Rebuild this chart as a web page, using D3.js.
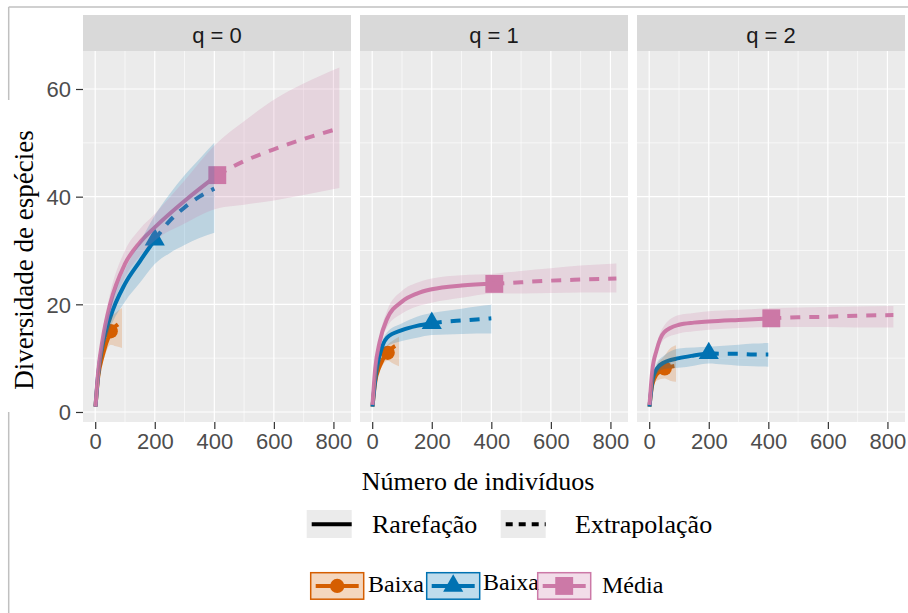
<!DOCTYPE html>
<html>
<head>
<meta charset="utf-8">
<script src="https://cdn.jsdelivr.net/npm/d3@7"></script>
<style>
  body { margin: 0; background: #fff; }
  svg  { display: block; }
  .sans  { font-family: "Liberation Sans", Arial, sans-serif; }
  .serif { font-family: "Liberation Serif", "Times New Roman", serif; }
</style>
</head>
<body>
<div id="chart"></div>
<script>
// ── data ────────────────────────────────────────────────────
const qLabels    = ["q = 0", "q = 1", "q = 2"];
const groupNames = ["Baixa", "Baixa", "Média"];
const refSizes   = [52, 200, 410];           // observed sample size (marker)
const xTicks     = [0, 200, 400, 600, 800];
const xMinor     = [100, 300, 500, 700];
const yTicks     = [0, 20, 40, 60];
const yMinor     = [10, 30, 50];

const sizesOrange = [1, 10, 25, 52, 70, 90];
const sizesBlue   = [1, 10, 25, 50, 100, 150, 200, 250, 300, 350, 400];
const sizesPink   = [1, 10, 25, 50, 100, 150, 200, 300, 410, 500, 600, 700, 820];

// q = 0
const orangeQ0   = [1, 6.5, 10.5, 15, 16, 16.8];
const orangeQ0Lo = [1, 5.5, 9, 12.5, 12.2, 11.9];
const orangeQ0Hi = [1, 7.5, 12, 17.5, 18.5, 19.3];
const blueQ0     = [1, 7, 12.5, 17.5, 23.8, 28, 32, 35.5, 38, 40, 41.5];
const blueQ0Lo   = [1, 6, 11, 15.5, 20.5, 24, 27.5, 29.5, 31, 32.3, 33.3];
const blueQ0Hi   = [1, 8, 14, 19.5, 26.5, 31.5, 36.5, 40.5, 44, 47, 50];
const pinkQ0     = [1, 7.5, 13.5, 20, 27.5, 31.5, 34.3, 39.2, 44, 46.6, 48.8, 50.7, 52.7];
const pinkQ0Lo   = [1, 6.5, 12, 18, 25, 29, 31.8, 35, 37.8, 38.5, 39.3, 40.3, 41.6];
const pinkQ0Hi   = [1, 8.5, 15, 22, 30, 34, 36.8, 43, 50, 54, 58, 61, 64];

// q = 1
const orangeQ1   = [1, 5.5, 8.5, 11, 12, 12.6];
const orangeQ1Lo = [1, 4.8, 7.5, 9.5, 9, 8.5];
const orangeQ1Hi = [1, 6.2, 9.5, 12.5, 13.3, 14];
const blueQ1     = [1, 6, 10.5, 13.8, 15.2, 16, 16.5, 16.8, 17, 17.2, 17.4];
const blueQ1Lo   = [1, 5.5, 9.5, 12.2, 13.2, 13.8, 14.3, 14.4, 14.5, 14.6, 14.6];
const blueQ1Hi   = [1, 6.5, 11.5, 14.8, 16.5, 17.7, 18.4, 18.8, 19.2, 19.6, 19.9];
const pinkQ1     = [1.3, 8, 13, 17.3, 20.5, 22, 22.8, 23.5, 23.8, 24.1, 24.4, 24.6, 24.8];
const pinkQ1Lo   = [1.3, 7.5, 12, 15.8, 18.3, 19.6, 20.3, 21.2, 22, 22, 22.1, 22.2, 22.2];
const pinkQ1Hi   = [1.3, 8.5, 14, 18.8, 22.5, 24, 24.8, 25.4, 25.7, 26.2, 26.7, 27.2, 27.6];

// q = 2
const orangeQ2   = [1, 5, 7, 8.1, 8.4, 8.6];
const orangeQ2Lo = [1, 4.2, 5.8, 6.2, 5.8, 5.6];
const orangeQ2Hi = [1, 5.8, 8.5, 10.5, 11.8, 12.4];
const blueQ2     = [1, 5.5, 8, 9.2, 10, 10.5, 10.9, 10.8, 10.8, 10.7, 10.7];
const blueQ2Lo   = [1, 5, 7, 8, 8.2, 8.6, 9, 8.8, 8.6, 8.5, 8.4];
const blueQ2Hi   = [1, 6, 9, 10.5, 11.8, 12, 12.1, 12.3, 12.5, 12.7, 12.8];
const pinkQ2     = [1.3, 7.5, 11.5, 14.8, 16.2, 16.6, 16.8, 17.1, 17.4, 17.6, 17.7, 17.9, 18];
const pinkQ2Lo   = [1.3, 7, 10.5, 13.5, 14.6, 15, 15.3, 15.6, 15.8, 15.8, 15.8, 15.7, 15.7];
const pinkQ2Hi   = [1.3, 8, 12.5, 16, 18, 18.4, 18.7, 19, 19.3, 19.4, 19.5, 19.6, 19.7];

// ── styling / layout ────────────────────────────────────────
const colors = ["#D55E00", "#0072B2", "#CC79A7"];
const shapes = [d3.symbolCircle, d3.symbolTriangle, d3.symbolSquare];
const shapeArea = [160, 175, 320];

const W = 908, H = 613;
const panelX = [83, 360, 637], panelW = 268;
const stripTop = 15, panelTop = 51, panelBottom = 422;

const sizes = [sizesOrange, sizesBlue, sizesPink];
const curves = [
  [[orangeQ0, orangeQ0Lo, orangeQ0Hi], [blueQ0, blueQ0Lo, blueQ0Hi], [pinkQ0, pinkQ0Lo, pinkQ0Hi]],
  [[orangeQ1, orangeQ1Lo, orangeQ1Hi], [blueQ1, blueQ1Lo, blueQ1Hi], [pinkQ1, pinkQ1Lo, pinkQ1Hi]],
  [[orangeQ2, orangeQ2Lo, orangeQ2Hi], [blueQ2, blueQ2Lo, blueQ2Hi], [pinkQ2, pinkQ2Lo, pinkQ2Hi]]
];

function rows(qi, gi) {
  const [est, lo, hi] = curves[qi][gi];
  return sizes[gi].map((m, i) => ({ m, est: est[i], lo: lo[i], hi: hi[i] }));
}

const svg = d3.select("#chart").append("svg")
  .attr("width", W).attr("height", H);

// outer frame remnants
svg.append("line").attr("x1", 8.7).attr("x2", W).attr("y1", 7).attr("y2", 7)
  .attr("stroke", "#c0c0c0").attr("stroke-width", 1.5);
svg.append("line").attr("x1", 8.7).attr("x2", 8.7).attr("y1", 7).attr("y2", 100)
  .attr("stroke", "#c0c0c0").attr("stroke-width", 1.5);
svg.append("line").attr("x1", 8.7).attr("x2", 8.7).attr("y1", 412).attr("y2", H)
  .attr("stroke", "#c0c0c0").attr("stroke-width", 1.5);

const y = d3.scaleLinear().domain([-1.86, 67.06]).range([panelBottom, panelTop]);

qLabels.forEach((label, qi) => {
  const px = panelX[qi];
  const x = d3.scaleLinear().domain([-41, 859]).range([px, px + panelW]);
  const g = svg.append("g");

  // strip
  g.append("rect").attr("x", px).attr("y", stripTop)
    .attr("width", panelW).attr("height", panelTop - stripTop).attr("fill", "#d9d9d9");
  g.append("text").attr("class", "sans")
    .attr("x", px + panelW / 2).attr("y", 43.3)
    .attr("text-anchor", "middle").attr("font-size", 22).attr("fill", "#1a1a1a")
    .text(label);

  // panel background + grid
  g.append("rect").attr("x", px).attr("y", panelTop)
    .attr("width", panelW).attr("height", panelBottom - panelTop).attr("fill", "#ebebeb");
  g.selectAll(".ymin").data(yMinor).join("line")
    .attr("x1", px).attr("x2", px + panelW).attr("y1", d => y(d)).attr("y2", d => y(d))
    .attr("stroke", "#fff").attr("stroke-width", 0.6);
  g.selectAll(".xmin").data(xMinor).join("line")
    .attr("y1", panelTop).attr("y2", panelBottom).attr("x1", d => x(d)).attr("x2", d => x(d))
    .attr("stroke", "#fff").attr("stroke-width", 0.6);
  g.selectAll(".ymaj").data(yTicks).join("line")
    .attr("x1", px).attr("x2", px + panelW).attr("y1", d => y(d)).attr("y2", d => y(d))
    .attr("stroke", "#fff").attr("stroke-width", 1.2);
  g.selectAll(".xmaj").data(xTicks).join("line")
    .attr("y1", panelTop).attr("y2", panelBottom).attr("x1", d => x(d)).attr("x2", d => x(d))
    .attr("stroke", "#fff").attr("stroke-width", 1.2);

  // clip
  const clipId = "clip" + qi;
  svg.append("clipPath").attr("id", clipId).append("rect")
    .attr("x", px).attr("y", panelTop).attr("width", panelW).attr("height", panelBottom - panelTop);
  const plot = g.append("g").attr("clip-path", `url(#${clipId})`);

  const line = d3.line().x(d => x(d.m)).y(d => y(d.est)).curve(d3.curveMonotoneX);
  const area = d3.area().x(d => x(d.m)).y0(d => y(d.lo)).y1(d => y(d.hi)).curve(d3.curveMonotoneX);

  // points first, then lines, then ribbons (ggiNEXT layer order)
  colors.forEach((c, gi) => {
    const r = rows(qi, gi).find(d => d.m === refSizes[gi]);
    plot.append("path")
      .attr("d", d3.symbol().type(shapes[gi]).size(shapeArea[gi])())
      .attr("transform", `translate(${x(r.m)},${y(r.est)})`)
      .attr("fill", c);
  });
  colors.forEach((c, gi) => {
    const data = rows(qi, gi);
    plot.append("path").datum(data.filter(d => d.m <= refSizes[gi]))
      .attr("d", line).attr("fill", "none").attr("stroke", c).attr("stroke-width", 4);
    plot.append("path").datum(data.filter(d => d.m >= refSizes[gi]))
      .attr("d", line).attr("fill", "none").attr("stroke", c).attr("stroke-width", 4)
      .attr("stroke-dasharray", "10,9");
  });
  colors.forEach((c, gi) => {
    plot.append("path").datum(rows(qi, gi))
      .attr("d", area).attr("fill", c).attr("fill-opacity", 0.2);
  });

  // axes
  const xAxis = g.append("g").attr("transform", `translate(0,${panelBottom})`)
    .call(d3.axisBottom(x).tickValues(xTicks).tickSize(7).tickPadding(4));
  xAxis.select(".domain").remove();
  xAxis.selectAll("line").attr("stroke", "#333").attr("stroke-width", 1.2);
  xAxis.selectAll("text").attr("class", "sans").attr("font-size", 22).attr("fill", "#4d4d4d");

  if (qi === 0) {
    const yAxis = g.append("g").attr("transform", `translate(${px},0)`)
      .call(d3.axisLeft(y).tickValues(yTicks).tickSize(7).tickPadding(5));
    yAxis.select(".domain").remove();
    yAxis.selectAll("line").attr("stroke", "#333").attr("stroke-width", 1.2);
    yAxis.selectAll("text").attr("class", "sans").attr("font-size", 22).attr("fill", "#4d4d4d")
      .attr("dy", "0.36em");
  }
});

// axis titles
svg.append("text").attr("class", "serif")
  .attr("transform", "translate(33,260) rotate(-90)")
  .attr("text-anchor", "middle").attr("font-size", 27).attr("fill", "#000")
  .text("Diversidade de espécies");
svg.append("text").attr("class", "serif")
  .attr("x", 478).attr("y", 490)
  .attr("text-anchor", "middle").attr("font-size", 26).attr("fill", "#000")
  .text("Número de indivíduos");

// ── legend: line type ───────────────────────────────────────
const lty = [
  { label: "Rarefação",    bx: 306.7, tx: 372, dash: null },
  { label: "Extrapolação", bx: 500.7, tx: 575, dash: "7,6" }
];
lty.forEach(k => {
  svg.append("rect").attr("x", k.bx).attr("y", 510).attr("width", 45).attr("height", 28)
    .attr("fill", "#ebebeb");
  svg.append("line").attr("x1", k.bx + 5).attr("x2", k.bx + 45).attr("y1", 524.3).attr("y2", 524.3)
    .attr("stroke", "#000").attr("stroke-width", 4)
    .attr("stroke-dasharray", k.dash);
  svg.append("text").attr("class", "serif").attr("x", k.tx).attr("y", 533)
    .attr("font-size", 26).attr("fill", "#000").text(k.label);
});

// ── legend: groups ──────────────────────────────────────────
const keyX = [310.7, 426.7, 537.7];
const keyTextX = [368, 483, 602];
const keyTextY = [592, 590, 593];
groupNames.forEach((name, gi) => {
  const bx = keyX[gi], by = 572.7, bw = 53, bh = 26.5, cy = by + bh / 2;
  svg.append("rect").attr("x", bx).attr("y", by).attr("width", bw).attr("height", bh)
    .attr("fill", colors[gi]).attr("fill-opacity", 0.25)
    .attr("stroke", colors[gi]).attr("stroke-width", 1.5);
  svg.append("line").attr("x1", bx + 5).attr("x2", bx + bw - 5).attr("y1", cy).attr("y2", cy)
    .attr("stroke", colors[gi]).attr("stroke-width", 4);
  svg.append("path")
    .attr("d", d3.symbol().type(shapes[gi]).size(shapeArea[gi])())
    .attr("transform", `translate(${bx + bw / 2},${cy})`)
    .attr("fill", colors[gi]);
  svg.append("text").attr("class", "serif").attr("x", keyTextX[gi]).attr("y", keyTextY[gi])
    .attr("font-size", 24).attr("fill", "#000").text(name);
});
</script>
</body>
</html>
